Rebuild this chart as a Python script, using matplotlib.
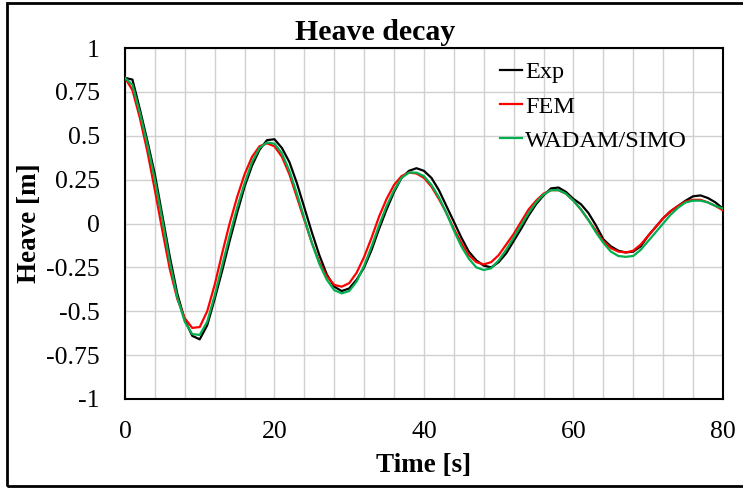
import matplotlib
matplotlib.use('Agg')
import matplotlib.pyplot as plt
from matplotlib.patches import Rectangle
from matplotlib.ticker import MultipleLocator, FuncFormatter

plt.rcParams['font.family'] = ['Liberation Serif', 'DejaVu Serif']
plt.rcParams['axes.unicode_minus'] = False

# time [s], one reading per second
time = list(range(0, 81))

exp = [0.83, 0.82, 0.65, 0.47, 0.28, 0.045, -0.19, -0.40, -0.55, -0.64,
       -0.66, -0.58, -0.43, -0.27, -0.10, 0.06, 0.21, 0.33, 0.42, 0.475,
       0.48, 0.43, 0.35, 0.23, 0.09, -0.05, -0.18, -0.29, -0.36, -0.385,
       -0.37, -0.32, -0.25, -0.15, -0.03, 0.08, 0.18, 0.26, 0.30, 0.315,
       0.30, 0.26, 0.19, 0.10, 0.01, -0.08, -0.16, -0.21, -0.24, -0.25,
       -0.22, -0.17, -0.10, -0.03, 0.045, 0.11, 0.16, 0.20, 0.205, 0.18,
       0.14, 0.11, 0.06, -0.01, -0.09, -0.13, -0.155, -0.165, -0.16, -0.13,
       -0.07, -0.02, 0.03, 0.07, 0.10, 0.13, 0.155, 0.16, 0.145, 0.12,
       0.085]

fem = [0.83, 0.76, 0.60, 0.41, 0.19, -0.04, -0.26, -0.43, -0.54, -0.595,
       -0.59, -0.50, -0.35, -0.17, 0.00, 0.15, 0.28, 0.38, 0.44, 0.457,
       0.44, 0.38, 0.28, 0.15, 0.02, -0.11, -0.22, -0.30, -0.35, -0.36,
       -0.34, -0.28, -0.19, -0.08, 0.04, 0.14, 0.22, 0.27, 0.29, 0.285,
       0.26, 0.21, 0.14, 0.06, -0.03, -0.11, -0.18, -0.22, -0.233, -0.22,
       -0.18, -0.12, -0.06, 0.01, 0.08, 0.13, 0.17, 0.19, 0.19, 0.17,
       0.13, 0.08, 0.02, -0.04, -0.10, -0.14, -0.16, -0.165, -0.155, -0.12,
       -0.07, -0.02, 0.03, 0.07, 0.10, 0.125, 0.135, 0.135, 0.12, 0.10,
       0.075]

wadam = [0.83, 0.79, 0.63, 0.45, 0.25, 0.02, -0.22, -0.42, -0.56, -0.63,
         -0.635, -0.56, -0.41, -0.24, -0.07, 0.09, 0.23, 0.35, 0.43, 0.462,
         0.455, 0.40, 0.30, 0.17, 0.03, -0.11, -0.23, -0.32, -0.38, -0.398,
         -0.385, -0.33, -0.24, -0.13, -0.01, 0.10, 0.19, 0.26, 0.29, 0.29,
         0.27, 0.22, 0.15, 0.06, -0.04, -0.13, -0.20, -0.25, -0.265, -0.255,
         -0.21, -0.15, -0.08, -0.01, 0.06, 0.12, 0.165, 0.19, 0.19, 0.17,
         0.13, 0.08, 0.02, -0.05, -0.11, -0.16, -0.185, -0.19, -0.185, -0.15,
         -0.10, -0.05, 0.00, 0.05, 0.09, 0.12, 0.13, 0.13, 0.12, 0.10,
         0.085]

fig = plt.figure(figsize=(7.43, 4.97), dpi=100)
ax = fig.add_axes([0.1682, 0.1972, 0.8048, 0.7062])

ax.plot(time, exp, color='black', lw=1.6, label='Exp', zorder=3)
ax.plot(time, fem, color='#ff0000', lw=1.6, label='FEM', zorder=3)
ax.plot(time, wadam, color='#00b050', lw=1.6, label='WADAM/SIMO', zorder=3)

ax.set_xlim(0, 80)
ax.set_ylim(-1, 1)
ax.xaxis.set_major_locator(MultipleLocator(20))
ax.xaxis.set_minor_locator(MultipleLocator(4))
ax.yaxis.set_major_locator(MultipleLocator(0.25))
ax.yaxis.set_major_formatter(FuncFormatter(lambda v, p: '%g' % v))
ax.grid(True, which='both', color='#d0d0d0', lw=1, zorder=0)
ax.set_axisbelow(True)
ax.tick_params(which='both', length=0, labelsize=18.5)
ax.tick_params(axis='y', pad=18)
ax.tick_params(axis='x', pad=16)
for s in ax.spines.values():
    s.set_linewidth(1.5)

ax.set_xlabel('Time [s]', fontsize=19.5, fontweight='bold')
ax.set_ylabel('Heave [m]', fontsize=19.5, fontweight='bold')
ax.xaxis.set_label_coords(0.5, -0.155)
ax.yaxis.set_label_coords(-0.139, 0.5)

fig.text(0.505, 0.935, 'Heave decay', ha='center', va='center',
         fontsize=21.5, fontweight='bold')

ax.legend(loc='upper left', bbox_to_anchor=(0.628, 0.962), frameon=False,
          fontsize=17.5, handlelength=0.9, handletextpad=0.1,
          labelspacing=0.5, borderpad=0, borderaxespad=0)

# outer chart border (right edge falls outside the image)
fig.patches.append(Rectangle((7 / 743, 1 - 486 / 497), 1.1, (486 - 2.5) / 497,
                             transform=fig.transFigure, fill=False,
                             edgecolor='black', lw=2, clip_on=False))

fig.savefig('out.png', dpi=100)
